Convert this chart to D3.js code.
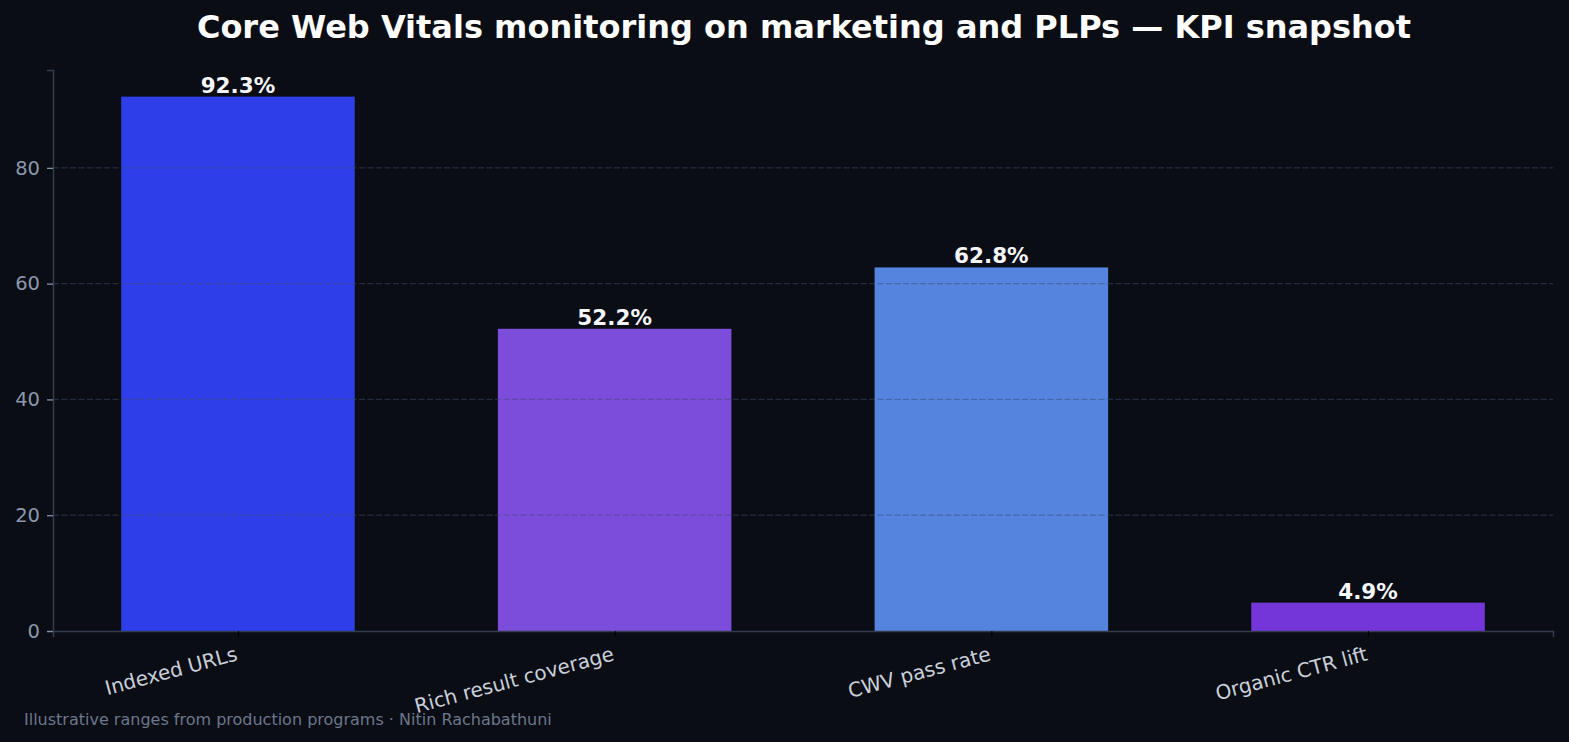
<!DOCTYPE html>
<meta charset="utf-8">
<script src="https://d3js.org/d3.v7.min.js"></script>
<style>
  body { margin: 0; background: #0a0d14; }
  svg text { font-family: "DejaVu Sans", sans-serif; }
</style>
<div id="chart"></div>
<script>
// data
var categories = ["Indexed URLs", "Rich result coverage", "CWV pass rate", "Organic CTR lift"];
var values = [92.3, 52.2, 62.8, 4.9];
var barColors = ["#2e3fe9", "#7c4cdb", "#5584de", "#7436d9"];
var yTicks = [0, 20, 40, 60, 80];

var W = 1569, H = 742;
var margin = {top: 70, right: 16, bottom: 111, left: 53};
var width = W - margin.left - margin.right,
    height = H - margin.top - margin.bottom;

var svg = d3.select("#chart").append("svg")
    .attr("width", W).attr("height", H)
    .style("background", "#0a0d14");

var g = svg.append("g")
    .attr("transform", "translate(" + margin.left + "," + margin.top + ")");

// x uses a linear scale on index, like matplotlib bars
var x = d3.scaleLinear().domain([-0.491, 3.491]).range([0, width]);
var barW = 0.62;
var y = d3.scaleLinear().domain([0, 96.9]).range([height, 0]);

// bars
g.selectAll(".bar").data(values).enter().append("rect")
    .attr("x", function(d, i) { return x(i - barW / 2); })
    .attr("y", function(d) { return y(d); })
    .attr("width", function(d, i) { return x(i + barW / 2) - x(i - barW / 2); })
    .attr("height", function(d) { return height - y(d); })
    .attr("fill", function(d, i) { return barColors[i]; });

// grid (drawn over the bars, semi transparent)
g.selectAll(".grid").data(yTicks.filter(function(d) { return d > 0; }))
  .enter().append("line")
    .attr("x1", 0).attr("x2", width)
    .attr("y1", function(d) { return y(d); }).attr("y2", function(d) { return y(d); })
    .attr("stroke", "#3b4a6b").attr("stroke-opacity", 0.5)
    .attr("stroke-dasharray", "6,2.5").attr("stroke-width", 1.2);

// value labels
g.selectAll(".val").data(values).enter().append("text")
    .attr("x", function(d, i) { return x(i); })
    .attr("y", function(d) { return y(d) - 4; })
    .attr("text-anchor", "middle")
    .attr("fill", "#f5f7fa")
    .style("font-size", "21.5px").style("font-weight", "bold")
    .text(function(d) { return d.toFixed(1) + "%"; });

// y axis
var yAxis = g.append("g").call(d3.axisLeft(y).tickValues(yTicks).tickSize(6).tickPadding(7).tickFormat(d3.format("d")));
yAxis.select(".domain").attr("stroke", "#333d4f").attr("stroke-width", 1.5);
yAxis.selectAll(".tick line").attr("stroke", "#8592a6").attr("stroke-width", 1.3);
yAxis.selectAll("text").attr("fill", "#8a98ad").style("font-size", "19.5px").style("font-family", "DejaVu Sans");

// x axis
var xAxis = g.append("g").attr("transform", "translate(0," + height + ")")
  .call(d3.axisBottom(x).tickValues(d3.range(categories.length)).tickSize(6).tickPadding(7)
        .tickFormat(function(i) { return categories[i]; }));
xAxis.select(".domain").attr("stroke", "#333d4f").attr("stroke-width", 1.5);
xAxis.selectAll(".tick line").attr("stroke", "#000");
xAxis.selectAll("text")
    .attr("fill", "#c9d0da").style("font-size", "20px").style("font-family", "DejaVu Sans")
    .attr("text-anchor", "end")
    .attr("y", 0).attr("dy", 0)
    .attr("transform", "translate(0,29) rotate(-15)");

// title
svg.append("text").attr("x", 804).attr("y", 38).attr("text-anchor", "middle")
    .attr("fill", "#ffffff").style("font-size", "32px").style("font-weight", "bold")
    .text("Core Web Vitals monitoring on marketing and PLPs \u2014 KPI snapshot");

// footer
svg.append("text").attr("x", 24).attr("y", 725)
    .attr("fill", "#6b778c").style("font-size", "16px")
    .text("Illustrative ranges from production programs \u00b7 Nitin Rachabathuni");
</script>
